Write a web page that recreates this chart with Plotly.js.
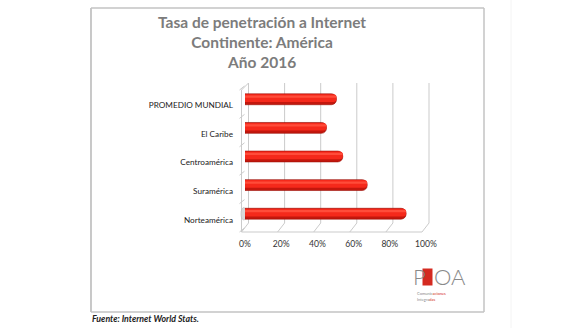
<!DOCTYPE html>
<html>
<head>
<meta charset="utf-8">
<script src="https://cdn.plot.ly/plotly-3.0.1.min.js"></script>
<style>
html,body{margin:0;padding:0;background:#fff;}
#chart{width:582px;height:328px;}
</style>
</head>
<body>
<div id="chart"></div>
<script>
// ---- data ----
var categories = ["PROMEDIO MUNDIAL", "El Caribe", "Centroamérica", "Suramérica", "Norteamérica"];
var penetration = [0.505, 0.45, 0.54, 0.675, 0.89];
var xTickValues = [0, 0.2, 0.4, 0.6, 0.8, 1.0];
var xTickLabels = ["0%", "20%", "40%", "60%", "80%", "100%"];
var titleLines = ["Tasa de penetración a Internet", "Continente: América", "Año 2016"];
var sourceNote = "Fuente: Internet World Stats.";

// ---- geometry helpers (pixel -> paper) ----
var W = 582, H = 328;
var L = 245, R = 426, T = 85, B = 228;
function X(px){ return (px - L) / (R - L); }
function Y(py){ return (B - py) / (B - T); }

var grid = '#cbcbcb';
var shapes = [];
function line(x0,y0,x1,y1,color,w){
  shapes.push({type:'line', xref:'paper', yref:'paper', x0:X(x0), y0:Y(y0), x1:X(x1), y1:Y(y1),
    line:{color:color||grid, width:w||1}, layer:'below'});
}
// outer frame (four edges)
var frameC = '#c3c3c3';
line(91, 8, 484, 8, frameC, 1.5);
line(91, 312, 484, 312, frameC, 1.5);
line(91, 8, 91, 312, frameC, 1.8);
line(484, 8, 484, 312, frameC, 1.5);
line(511, 0, 511, 328, '#f4f4f4', 1);

// 3D walls: front / back positions
var fx0 = 241.5, fscale = 180.5, dx = 7, fy = 232, by = 223, topY = 83;
xTickValues.forEach(function(v){
  var fx = fx0 + v*fscale, bx = fx + dx;
  line(fx, fy, bx, by);        // floor depth line
  line(bx, by, bx, topY);      // back wall vertical
});
line(fx0, fy, fx0 + fscale, fy);     // front floor edge
line(fx0, fy, fx0, 90);              // left wall front edge
line(fx0, 90, fx0 + dx, topY);       // left wall top slant
for (var i = 0; i <= categories.length; i++) {
  var yy = 90 + i*(fy-90)/categories.length;
  line(fx0-2, yy, fx0+3, yy-4);
}
// base cap of the last cylinder
shapes.push({type:'circle', xref:'paper', yref:'paper', x0:X(241), x1:X(246.5), y0:Y(207.5), y1:Y(220),
  line:{color:'#b9b9b9', width:0.6}, fillcolor:'#d9d9d9', layer:'below'});

// logo square
shapes.push({type:'rect', xref:'paper', yref:'paper', x0:X(422.5), x1:X(432.5), y0:Y(268.5), y1:Y(285.5),
  line:{width:0}, fillcolor:'#d42a20', layer:'below'});

var traces = [
  {type:'bar', orientation:'h', y:categories, x:penetration, width:0.38,
   marker:{color:'#c3170d', cornerradius:5, line:{color:'#9a0f07', width:0.6}},
   hoverinfo:'skip'},
  {type:'bar', orientation:'h', y:categories, x:penetration, width:0.27, offset:-0.175,
   marker:{color:'#f5291b', cornerradius:4, line:{width:0}}, hoverinfo:'skip'},
  {type:'bar', orientation:'h', y:categories, x:penetration, width:0.08, offset:-0.13,
   marker:{color:'#ff4c3a', cornerradius:2, line:{width:0}}, hoverinfo:'skip'}
];

var font = 'Lato, "Open Sans", sans-serif';
var layout = {
  width:W, height:H,
  margin:{l:L, r:W-R, t:T, b:H-B, pad:0},
  paper_bgcolor:'#fff', plot_bgcolor:'rgba(0,0,0,0)',
  showlegend:false, barmode:'overlay',
  xaxis:{range:[0,1], tickvals:xTickValues, ticktext:xTickLabels, showgrid:false, zeroline:false,
    showline:false, ticks:'', ticklabelstandoff:9, ticklabelshift:-4.5,
    tickfont:{family:font, size:8.6, color:'#333'}, fixedrange:true},
  yaxis:{type:'category', autorange:'reversed', showgrid:false, zeroline:false, showline:false,
    ticks:'', ticklabelstandoff:11, ticklabelshift:-6,
    tickfont:{family:font, size:8.2, color:'#222'}, fixedrange:true},
  shapes:shapes,
  annotations:[
    {xref:'paper', yref:'paper', x:X(262), y:Y(42), xanchor:'center', yanchor:'middle', showarrow:false,
     text:titleLines.join('<br>'), font:{family:font, size:15.5, weight:700, color:'#7c7c7c'}},
    {xref:'paper', yref:'paper', x:X(91), y:Y(318), xanchor:'left', yanchor:'middle', showarrow:false,
     text:'<b><i>'+sourceNote+'</i></b>', font:{family:font, size:8.8, color:'#222'}, borderpad:0},
    {xref:'paper', yref:'paper', x:X(419), y:Y(276.5), xanchor:'center', yanchor:'middle', showarrow:false,
     text:'P', font:{family:font, size:22, weight:300, color:'#8a8a8a'}, borderpad:0},
    {xref:'paper', yref:'paper', x:X(450), y:Y(276.5), xanchor:'center', yanchor:'middle', showarrow:false,
     text:'OA', font:{family:font, size:22, weight:300, color:'#8a8a8a'}, borderpad:0},
    {xref:'paper', yref:'paper', x:X(416), y:Y(293.5), xanchor:'left', yanchor:'middle', showarrow:false,
     text:'Comunic<span style="color:#d42a20">aciones</span>', font:{family:font, size:4, color:'#8a8a8a'}, borderpad:0},
    {xref:'paper', yref:'paper', x:X(416), y:Y(299), xanchor:'left', yanchor:'middle', showarrow:false,
     text:'Integra<span style="color:#d42a20">das</span>', font:{family:font, size:4, color:'#8a8a8a'}, borderpad:0}
  ]
};
Plotly.newPlot('chart', traces, layout, {displayModeBar:false, staticPlot:true});
</script>
</body>
</html>
